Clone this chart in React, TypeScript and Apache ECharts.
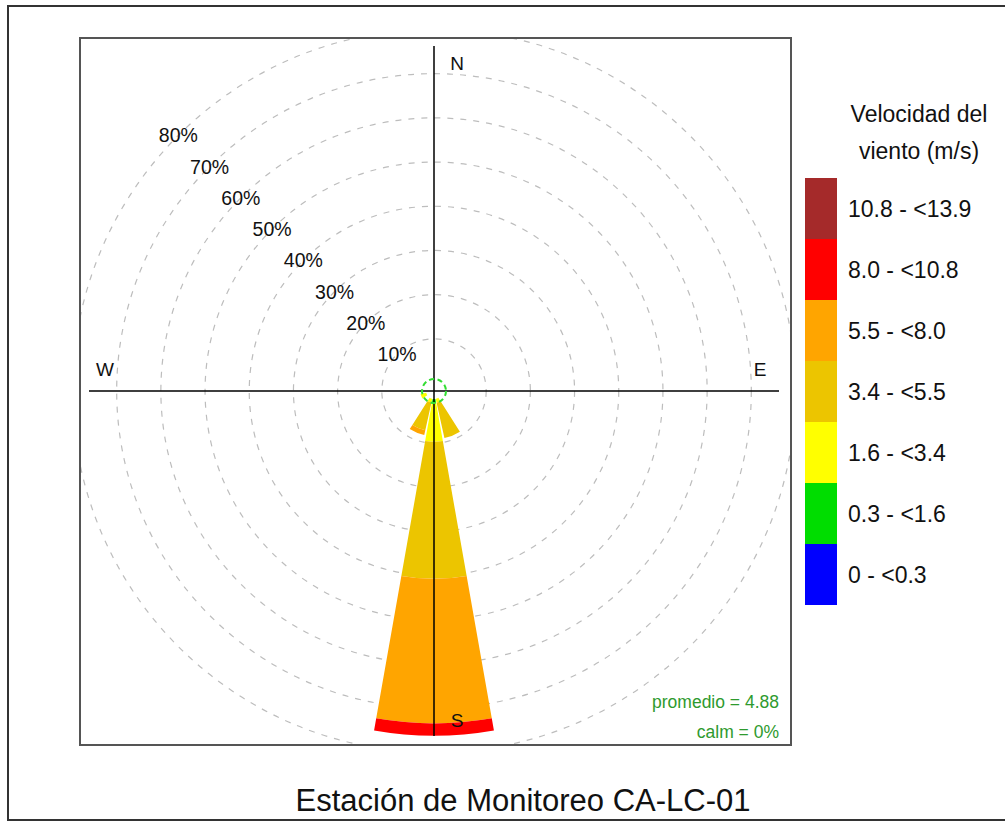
import React, { useEffect, useRef } from 'react';
import * as echarts from 'echarts';

// ---- data ----
const DIRECTIONS = ['N', 'NNE', 'NE', 'ENE', 'E', 'ESE', 'SE', 'SSE', 'S', 'SSW', 'SW', 'WSW', 'W', 'WNW', 'NW', 'NNW'];
const SPEED_BINS = ['0 - <0.3', '0.3 - <1.6', '1.6 - <3.4', '3.4 - <5.5', '5.5 - <8.0', '8.0 - <10.8', '10.8 - <13.9'];
const BIN_COLORS = ['#0000ff', '#00dd00', '#ffff00', '#ecc500', '#ffa500', '#ff0000', '#a52a2a'];
// frequency (%) per direction N..NNW for each speed bin
const FREQ_0_03 = [0, 0, 0, 0, 0, 0, 0, 0, 0, 0, 0, 0, 0, 0, 0, 0];
const FREQ_03_16 = [0, 0, 0, 0, 0, 0, 0, 0, 0.9, 0, 0, 0, 0, 0, 0, 0];
const FREQ_16_34 = [0, 0, 0, 0, 0, 0, 0, 0.9, 8.8, 0.9, 0, 1.3, 0, 0, 0, 0];
const FREQ_34_55 = [0, 0, 0, 0, 0, 0, 0, 8.2, 31.0, 6.4, 0, 0, 0, 0, 0, 0];
const FREQ_55_80 = [0, 0, 0, 0, 0, 0, 0, 0, 32.7, 1.1, 0, 0, 0, 0, 0, 0];
const FREQ_80_108 = [0, 0, 0, 0, 0, 0, 0, 0, 2.8, 0, 0, 0, 0, 0, 0, 0];
const FREQ_108_139 = [0, 0, 0, 0, 0, 0, 0, 0, 0, 0, 0, 0, 0, 0, 0, 0];
const BIN_VALUES = [FREQ_0_03, FREQ_03_16, FREQ_16_34, FREQ_34_55, FREQ_55_80, FREQ_80_108, FREQ_108_139];

const PERCENT_MAX = 80;
const PERCENT_STEP = 10;
const COMPASS = ['N', 'E', 'S', 'W'];
const MEAN_SPEED = 4.88;
const CALM_PCT = 0;
const TITLE = 'Estación de Monitoreo CA-LC-01';
const LEGEND_TITLE = 'Velocidad del\nviento (m/s)';

const FONT = 'Liberation Sans, Arial, sans-serif';

export default function App() {
  const ref = useRef<HTMLDivElement>(null);

  useEffect(() => {
    if (!ref.current) return;
    const chart = echarts.init(ref.current, undefined, { renderer: 'svg' });
    const cx = 434;
    const cy = 391;
    const center = [cx, cy];
    const crossR = 345;
    const ringColors = ['rgba(0,0,0,0)'];
    for (let i = 0; i < 20; i++) ringColors.push('#bdbdbd');

    // compass label placement (offset from each axis-line end, inside the rose)
    const compassPos: Record<string, [number, number]> = {
      N: [cx + 23, cy - crossR + 17],
      E: [cx + crossR - 19, cy - 22],
      S: [cx + 23, cy + crossR - 16],
      W: [cx - crossR + 16, cy - 22],
    };

    const option: any = {
      animation: false,
      backgroundColor: '#ffffff',
      polar: [
        { center, radius: [8, 361.5] },
        { center, radius: [8, 361.5] },
        { center, radius: [0, crossR] },
        { center, radius: [0, 12] },
      ],
      angleAxis: [
        { polarIndex: 0, type: 'category', data: DIRECTIONS, startAngle: 90 + 360 / DIRECTIONS.length / 2, clockwise: true, show: false },
        { polarIndex: 1, type: 'value', min: 0, max: 360, startAngle: 135, show: false },
        {
          polarIndex: 2, type: 'category', data: COMPASS, boundaryGap: false, startAngle: 90, clockwise: true, z: 10,
          axisLine: { show: false }, axisTick: { show: false }, splitArea: { show: false },
          splitLine: { show: true, lineStyle: { color: '#000', width: 1.5 } },
          axisLabel: { show: false },
        },
        {
          polarIndex: 3, type: 'value', min: 0, max: 360, z: 11,
          axisLine: { show: true, lineStyle: { color: '#33dd33', width: 2, type: [5, 3.5] } },
          axisTick: { show: false }, axisLabel: { show: false }, splitLine: { show: false },
        },
      ],
      radiusAxis: [
        { polarIndex: 0, type: 'value', min: 0, max: PERCENT_MAX, show: false },
        {
          polarIndex: 1, type: 'value', min: 0, max: PERCENT_MAX, interval: PERCENT_STEP, z: 1,
          axisLine: { show: false }, axisTick: { show: false },
          splitLine: { show: true, lineStyle: { color: ringColors, type: [6, 7], width: 1.2 } },
          axisLabel: {
            show: true, margin: 0, align: 'center', verticalAlign: 'middle', rotate: 0,
            fontSize: 19.5, fontFamily: FONT, color: '#111',
            formatter: (v: number) => (v === 0 ? '' : `${v}%`),
          },
        },
        { polarIndex: 2, type: 'value', min: 0, max: 1, show: false },
        { polarIndex: 3, type: 'value', min: 0, max: 1, show: false },
      ],
      legend: {
        orient: 'vertical', left: 805, top: 178, padding: 0,
        itemWidth: 32, itemHeight: 61, itemGap: 0, icon: 'rect', selectedMode: false,
        data: SPEED_BINS.slice().reverse(),
        textStyle: { fontSize: 23, fontFamily: FONT, color: '#111', padding: [0, 0, 0, 6] },
      },
      series: SPEED_BINS.map((name, i) => ({
        name,
        type: 'bar',
        coordinateSystem: 'polar',
        polarIndex: 0,
        stack: 'wind',
        barCategoryGap: '11%',
        itemStyle: { color: BIN_COLORS[i] },
        data: BIN_VALUES[i],
        z: 2,
      })),
      graphic: [
        // masks clipping the grid rings to the plot box
        { type: 'rect', z: 50, silent: true, shape: { x: 60, y: 15, width: 745, height: 22 }, style: { fill: '#fff' } },
        { type: 'rect', z: 50, silent: true, shape: { x: 60, y: 746, width: 745, height: 22 }, style: { fill: '#fff' } },
        { type: 'rect', z: 50, silent: true, shape: { x: 60, y: 15, width: 19, height: 750 }, style: { fill: '#fff' } },
        { type: 'rect', z: 50, silent: true, shape: { x: 792, y: 15, width: 11, height: 750 }, style: { fill: '#fff' } },
        // plot box
        { type: 'rect', z: 60, silent: true, shape: { x: 80, y: 38, width: 711, height: 707 }, style: { fill: 'none', stroke: '#555', lineWidth: 2 } },
        // outer frame
        { type: 'rect', z: 60, silent: true, shape: { x: 8, y: 6, width: 1010, height: 814 }, style: { fill: 'none', stroke: '#333', lineWidth: 2 } },
        ...COMPASS.map((c) => ({
          type: 'text', z: 61, x: compassPos[c][0], y: compassPos[c][1],
          style: { text: c, fontSize: 19, fontFamily: FONT, fill: '#111', align: 'center', verticalAlign: 'middle' },
        })),
        {
          type: 'text', z: 61, x: 779, y: 702,
          style: { text: `promedio = ${MEAN_SPEED}`, fontSize: 17.5, fontFamily: FONT, fill: '#2e9a2e', align: 'right', verticalAlign: 'middle' },
        },
        {
          type: 'text', z: 61, x: 779, y: 732,
          style: { text: `calm = ${CALM_PCT}%`, fontSize: 17.5, fontFamily: FONT, fill: '#2e9a2e', align: 'right', verticalAlign: 'middle' },
        },
        {
          type: 'text', z: 61, x: 919, y: 132,
          style: { text: LEGEND_TITLE, fontSize: 23, lineHeight: 37, fontFamily: FONT, fill: '#111', align: 'center', verticalAlign: 'middle' },
        },
        {
          type: 'text', z: 61, x: 523, y: 800,
          style: { text: TITLE, fontSize: 31, fontFamily: FONT, fill: '#111', align: 'center', verticalAlign: 'middle' },
        },
      ],
    };
    chart.setOption(option);
    return () => chart.dispose();
  }, []);

  return <div ref={ref} style={{ position: 'absolute', left: 0, top: 0, width: 1005, height: 822 }} />;
}
